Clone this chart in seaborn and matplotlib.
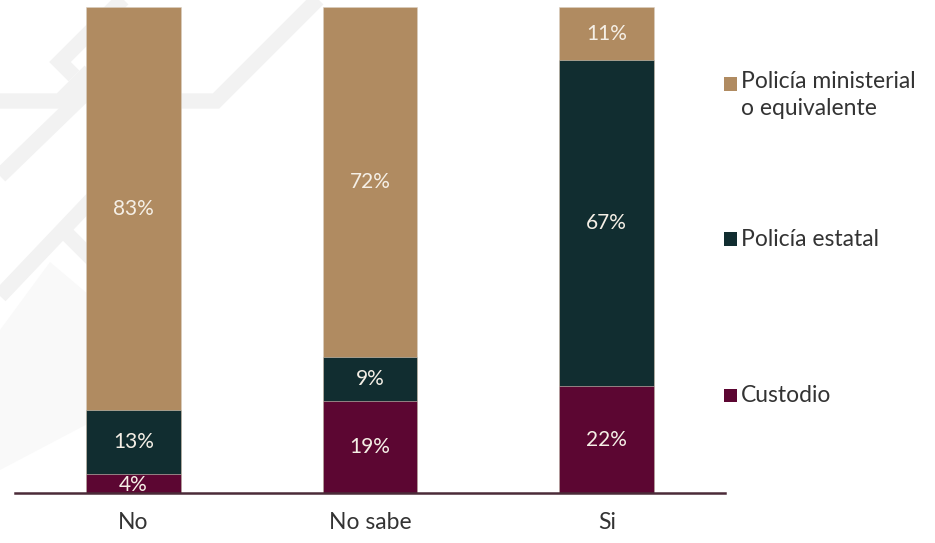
import matplotlib
matplotlib.use("Agg")
import matplotlib.pyplot as plt
from matplotlib.lines import Line2D
from matplotlib.patches import Rectangle, Polygon
import seaborn as sns
import pandas as pd
import numpy as np

# datos
categorias = ["No", "No sabe", "Si"]
custodio = [4, 19, 22]
estatal = [13, 9, 67]
ministerial = [83, 72, 11]
series = ["Policía ministerial\no equivalente", "Policía estatal", "Custodio"]
colores = ["#b08b61", "#112d30", "#5c0632"]

sns.set_theme(style="white")
plt.rcParams['font.family'] = ['Lato', 'DejaVu Sans']

W, H = 935, 543
fig = plt.figure(figsize=(W / 100, H / 100), dpi=100)
ax = fig.add_axes([15 / W, 50 / H, 710 / W, 486 / H])
ax.patch.set_alpha(0)

# marca de agua (decoración gris clara a la izquierda)
def px(pts):
    return [p[0] / W for p in pts], [1 - p[1] / H for p in pts]

poly = Polygon([(x / W, 1 - y / H) for x, y in
                [(0, 470), (0, 330), (50, 262), (95, 300), (95, 420)]],
               closed=True, transform=fig.transFigure, facecolor="#f9f9f9",
               edgecolor="none", zorder=-2)
fig.add_artist(poly)
trazos = [
    [(0, 101), (60, 101), (90, 71)],
    [(130, -8), (60, 62), (74, 76)],
    [(0, 176), (95, 84)],
    [(178, 101), (216, 101), (325, -8)],
    [(0, 296), (95, 196)],
    [(63, 230), (95, 262)],
]
for t in trazos:
    xs, ys = px(t)
    fig.add_artist(Line2D(xs, ys, transform=fig.transFigure, color="#f2f2f2",
                          lw=11, solid_joinstyle="miter", solid_capstyle="butt",
                          zorder=-1))

df = pd.DataFrame({"cat": categorias, "cus": custodio, "est": estatal, "min": ministerial})
df["tot"] = df["cus"] + df["est"] + df["min"]
df["cus_est"] = df["cus"] + df["est"]

kw = dict(width=0.4, edgecolor="#d9cfc2", linewidth=0.4, ax=ax)
sns.barplot(data=df, x="cat", y="tot", color=colores[0], saturation=1, **kw)
sns.barplot(data=df, x="cat", y="cus_est", color=colores[1], saturation=1, **kw)
sns.barplot(data=df, x="cat", y="cus", color=colores[2], saturation=1, **kw)

# etiquetas de valores
for i in range(len(categorias)):
    base = 0
    for v in [custodio[i], estatal[i], ministerial[i]]:
        y = base + v / 2
        if v < 6:
            y = base + v / 2 - 0.3
        ax.text(i, y, f"{v}%", ha="center", va="center", color="#f5efe6",
                fontsize=15, fontweight="normal", zorder=5)
        base += v

ax.set_xlim(-0.5, 2.5)
ax.set_ylim(0, 100)
ax.set_xlabel("")
ax.set_ylabel("")
ax.set_yticks([])
for s in ["top", "right", "left"]:
    ax.spines[s].set_visible(False)
ax.spines["bottom"].set_color("#4b2b38")
ax.spines["bottom"].set_linewidth(1.8)
ax.tick_params(axis="x", length=0, pad=14, labelsize=16.5, labelcolor="#333333")

# leyenda manual
ley_y = [84, 239, 395]
for lab, col, y in zip(series, colores, ley_y):
    fig.add_artist(Rectangle((724 / W, 1 - (y + 6.5) / H), 13 / W, 13 / H,
                             transform=fig.transFigure, facecolor=col,
                             edgecolor="none"))
    if "\n" in lab:
        fig.text(741 / W, 1 - (y - 13) / H, lab, ha="left", va="top",
                 fontsize=16.5, color="#333333", linespacing=1.35)
    else:
        fig.text(741 / W, 1 - y / H, lab, ha="left", va="center",
                 fontsize=16.5, color="#333333")

fig.savefig("out.png", dpi=100)
